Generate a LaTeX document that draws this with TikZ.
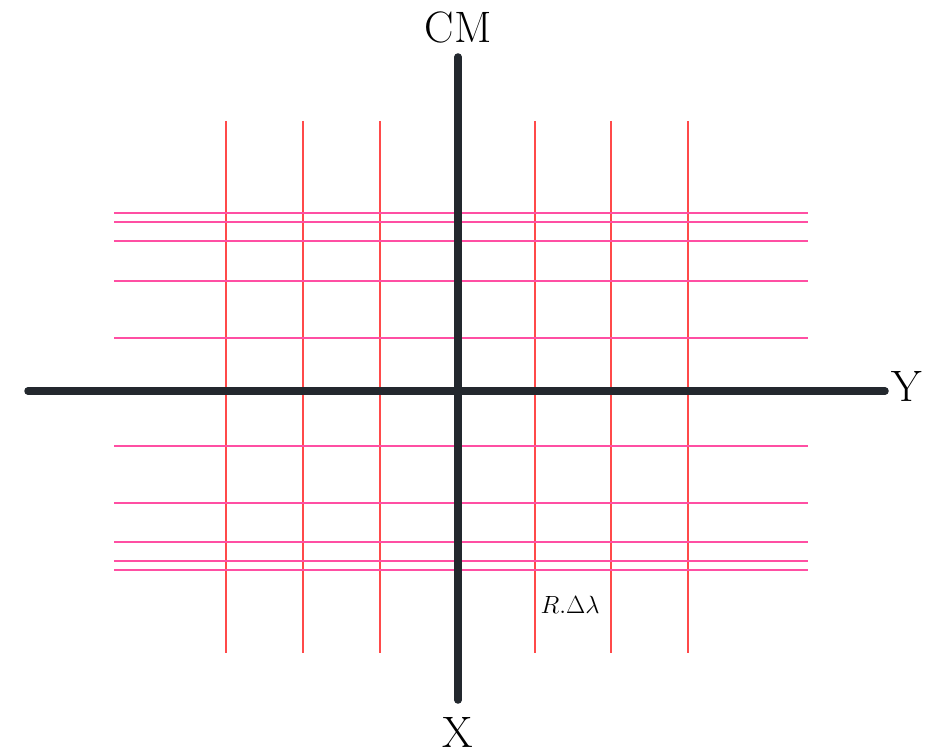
\documentclass[tikz,border=0pt]{standalone}
\usepackage{tikz}
\usepackage{xcolor}
\usetikzlibrary{positioning}
\definecolor{axisgray}{HTML}{23282E}
\definecolor{gridred}{HTML}{FF4A4A}
\definecolor{gridpink}{HTML}{FF4FA3}
\tikzset{%
  % lines
  axis/.style={line width=7.5pt, color=axisgray, line cap=round},
  vline/.style={line width=1.6pt, color=gridred},
  hline/.style={line width=2.2pt, color=gridpink},
  % labels
  axlabel/.style={font=\fontsize{44}{48}\selectfont, inner sep=0pt},
  small/.style={font=\fontsize{23}{26}\selectfont, inner sep=0pt},
}
\begin{document}
\begin{tikzpicture}[x=1pt, y=-1pt]
  \useasboundingbox (0,0) rectangle (936,754);

  % vertical grid lines
  \foreach \x in {226,303,380,535,611,688}
    \draw[vline] (\x,121) -- (\x,653);
  % horizontal grid lines
  \foreach \y in {213,222,241,281,338,446,503,542,561,570}
    \draw[hline] (114,\y) -- (808,\y);

  % axes
  \coordinate (left) at (28,391);
  \coordinate (right) at (885,391);
  \coordinate (top) at (458,57);
  \coordinate (bottom) at (458,700);
  \draw[axis] (left) -- (right);
  \draw[axis] (top) -- (bottom);

  \node[axlabel, above=14pt of top] (cm) {CM};
  \node[axlabel, right=6pt of right, yshift=5pt] (ylab) {Y};
  \node[axlabel, below=17pt of bottom] (xlab) {X};
  \node[small] (rdl) at (570,605) {$R.\Delta\lambda$};
\end{tikzpicture}
\end{document}
